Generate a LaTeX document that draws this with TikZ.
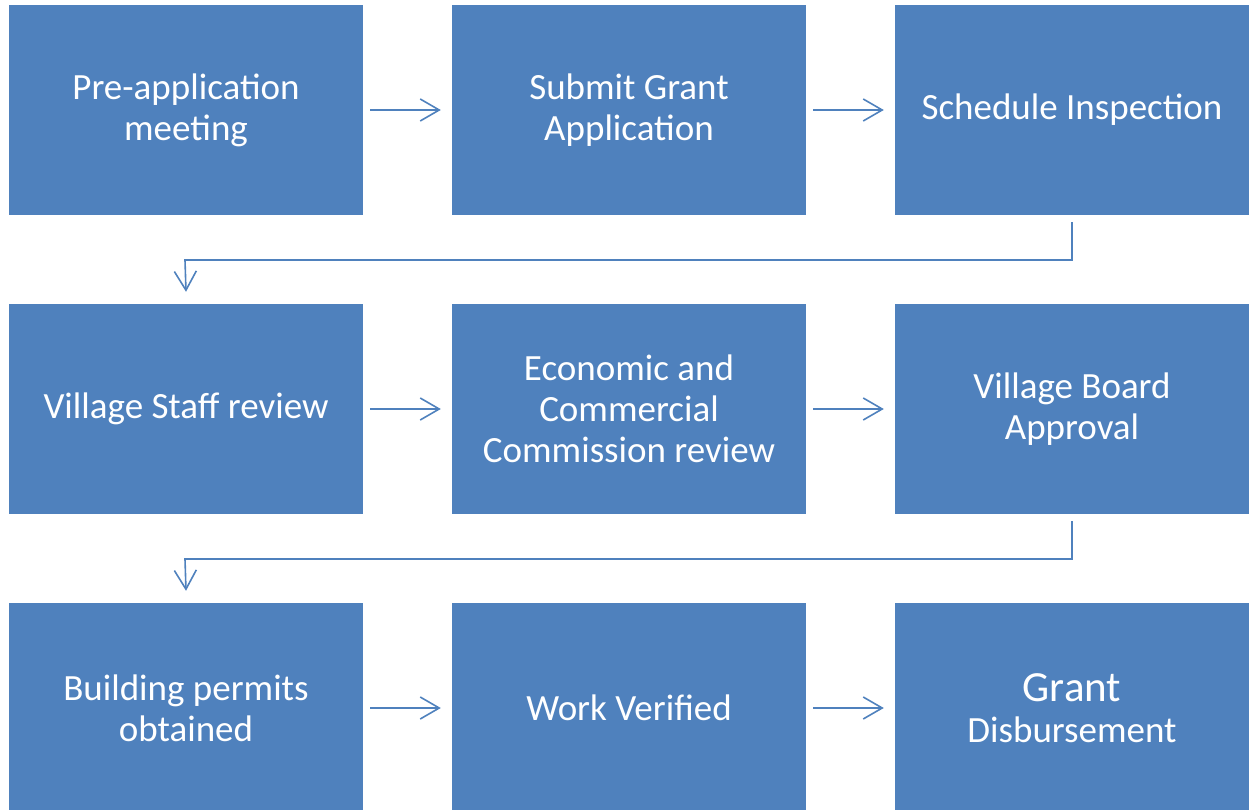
\documentclass[tikz,border=0pt]{standalone}
\usepackage{fontspec}
\setmainfont{Carlito}
\usetikzlibrary{positioning,arrows.meta}
\definecolor{boxblue}{HTML}{4F81BD}

\begin{document}
\begin{tikzpicture}[x=1pt,y=-1pt,
    stepbox/.style={fill=boxblue,text=white,minimum width=354pt,minimum height=210pt,
      inner sep=0pt,align=center,font=\fontsize{37}{41}\selectfont},
    flowarrow/.style={draw=boxblue,line width=1.6pt,-{Straight Barb[length=19pt,width=22pt,line width=1.6pt]}}]
		\useasboundingbox (0,0) rectangle (1249,810);
		% first row
		\node [stepbox] (premeet) at (186,110) {Pre-application\\meeting};
		\node [stepbox] (submit) at (629,110) {Submit Grant\\Application};
		\node [stepbox] (inspect) at (1072,110) {Schedule Inspection};
		% second row
		\node [stepbox] (staff) at (186,409) {Village Staff review};
		\node [stepbox] (commission) at (629,409) {Economic and\\Commercial\\Commission review};
		\node [stepbox] (board) at (1072,409) {Village Board\\Approval};
		% third row
		\node [stepbox] (permits) at (186,708) {Building permits\\obtained};
		\node [stepbox] (verified) at (629,708) {Work Verified};
		\node [stepbox] (disburse) at (1072,708) {{\fontsize{43}{44}\selectfont Grant}\\Disbursement};
		% connectors
		\draw [flowarrow] ([xshift=7pt]premeet.east) -- ([xshift=-11pt]submit.west);
		\draw [flowarrow] ([xshift=7pt]submit.east) -- ([xshift=-11pt]inspect.west);
		\draw [flowarrow] ([yshift=-7pt]inspect.south) |- (185,260) -- ([yshift=12pt]staff.north);
		\draw [flowarrow] ([xshift=7pt]staff.east) -- ([xshift=-11pt]commission.west);
		\draw [flowarrow] ([xshift=7pt]commission.east) -- ([xshift=-11pt]board.west);
		\draw [flowarrow] ([yshift=-7pt]board.south) |- (185,559) -- ([yshift=12pt]permits.north);
		\draw [flowarrow] ([xshift=7pt]permits.east) -- ([xshift=-11pt]verified.west);
		\draw [flowarrow] ([xshift=7pt]verified.east) -- ([xshift=-11pt]disburse.west);
\end{tikzpicture}
\end{document}
